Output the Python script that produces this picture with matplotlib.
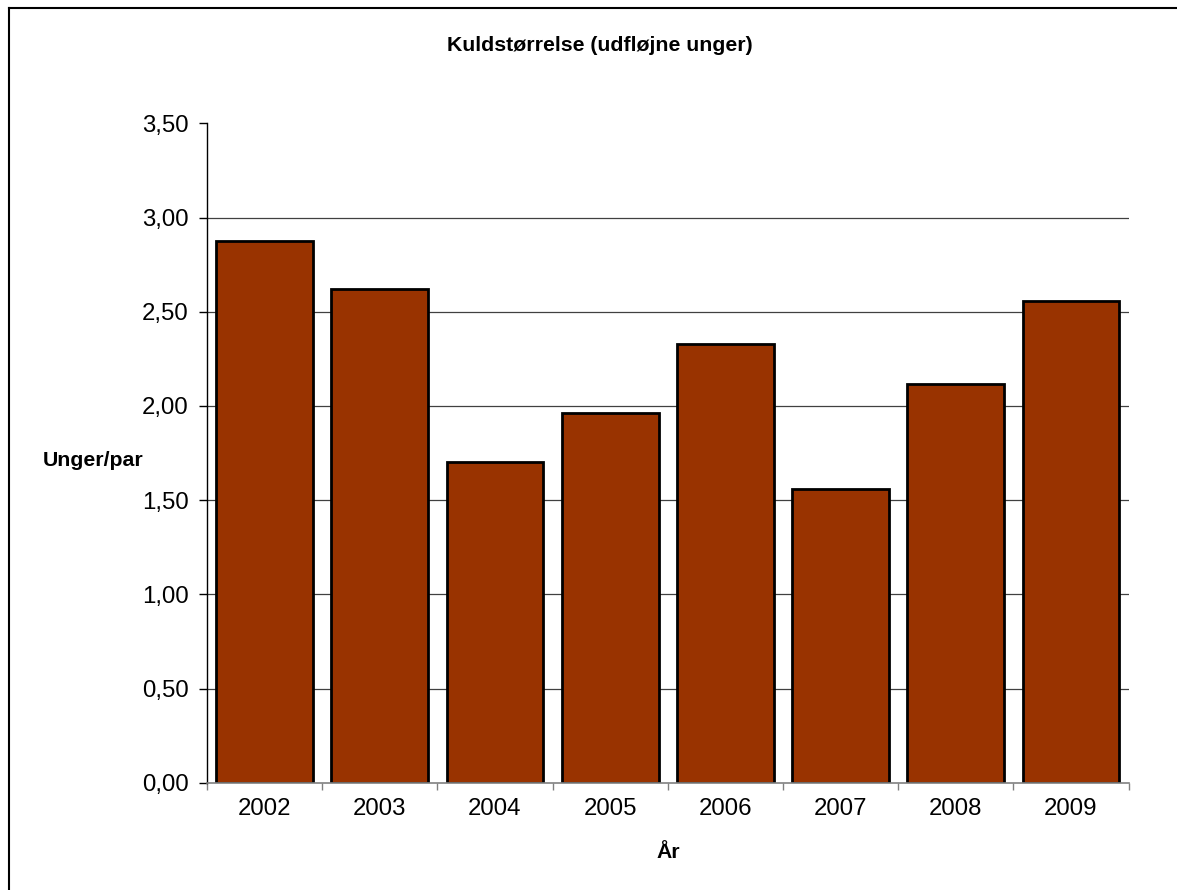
import matplotlib
matplotlib.use("Agg")
import matplotlib.pyplot as plt
from matplotlib.lines import Line2D
import numpy as np

years = ["2002", "2003", "2004", "2005", "2006", "2007", "2008", "2009"]
values = [2.875, 2.62, 1.70, 1.96, 2.33, 1.56, 2.115, 2.555]
yticks = [0.0, 0.5, 1.0, 1.5, 2.0, 2.5, 3.0, 3.5]
ytick_labels = ["0,00", "0,50", "1,00", "1,50", "2,00", "2,50", "3,00", "3,50"]

plt.rcParams['font.family'] = ['Liberation Sans', 'DejaVu Sans']

W, H = 1177, 890
fig = plt.figure(figsize=(W / 100, H / 100), dpi=100)
fig.patch.set_facecolor('white')

ax = fig.add_axes([207 / W, 1 - 782.8 / H, (1128.5 - 207) / W, (782.8 - 123.3) / H])

x = np.arange(len(years))
ax.bar(x, values, width=0.84, color='#993300', edgecolor='black', linewidth=2.0, zorder=3)

ax.set_xlim(-0.5, len(years) - 0.5)
ax.set_ylim(0, 3.5)

ax.set_yticks(yticks)
ax.set_yticklabels(ytick_labels, fontsize=17.3)
for yv in yticks[1:-1]:
    ax.axhline(yv, color='#404040', linewidth=0.9, zorder=1)

ax.set_xticks(x)
ax.set_xticklabels(years, fontsize=17.3)
ax.set_xticks(np.arange(-0.5, len(years), 1.0), minor=True)
ax.tick_params(axis='x', which='major', length=0, pad=11)
ax.tick_params(axis='x', which='minor', length=5, width=1, color='#808080', direction='out')
ax.tick_params(axis='y', which='major', length=6, width=1, color='black', direction='out', pad=7)

for s in ['top', 'right']:
    ax.spines[s].set_visible(False)
ax.spines['left'].set_color('black')
ax.spines['left'].set_linewidth(1)
ax.spines['bottom'].set_color('#808080')
ax.spines['bottom'].set_linewidth(1.2)
ax.spines['bottom'].set_zorder(4)

fig.text(600 / W, 1 - 51 / H, "Kuldstørrelse (udfløjne unger)", ha='center', va='baseline',
         fontsize=15.3, fontweight='bold')
fig.text(93 / W, 1 - 466 / H, "Unger/par", ha='center', va='baseline',
         fontsize=15.3, fontweight='bold')
fig.text(668 / W, 1 - 858 / H, "År", ha='center', va='baseline',
         fontsize=15.3, fontweight='bold')

# outer chart border (left and top visible)
fig.add_artist(Line2D([8.5 / W, 8.5 / W], [0, 1 - 7.5 / H], transform=fig.transFigure,
                      color='black', linewidth=1.5))
fig.add_artist(Line2D([8.5 / W, 1], [1 - 7.5 / H, 1 - 7.5 / H], transform=fig.transFigure,
                      color='black', linewidth=1.5))

fig.savefig("out.png", dpi=100, facecolor='white')
